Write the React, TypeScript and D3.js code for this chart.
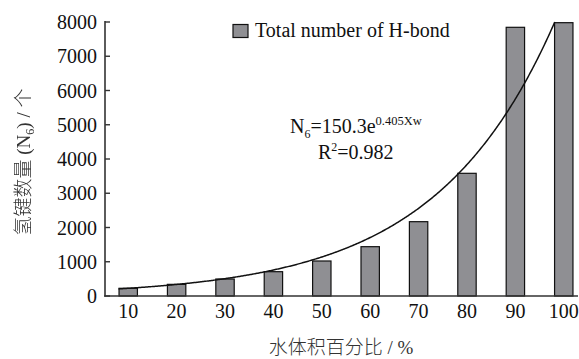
import React from "react";
import * as d3 from "d3";

const categories = ["10", "20", "30", "40", "50", "60", "70", "80", "90", "100"];
const hbondTotals = [225, 340, 496, 710, 1022, 1440, 2170, 3582, 7845, 7980];
const yTicks = [0, 1000, 2000, 3000, 4000, 5000, 6000, 7000, 8000];
const fitA = 150.3;
const fitB = 0.405;
const legendLabel = "Total number of H-bond";

const W = 579;
const H = 359;
const FONT = "'Liberation Serif', 'Times New Roman', serif";
const CJK = "'Noto Sans CJK SC', sans-serif";

export default function App() {
  const x = d3.scaleBand<string>().domain(categories).range([105, 587]).paddingInner(0.62).paddingOuter(0.29);
  const y = d3.scaleLinear().domain([0, 8000]).range([296, 22]);
  const step = x.step();
  const cx = (i: number) => (x(categories[0]) as number) + x.bandwidth() / 2 + (i - 1) * step;
  const xEnd = Math.log(8000 / fitA) / fitB;
  const pts: [number, number][] = d3.range(0.8, xEnd, 0.02).concat([xEnd]).map((t) => [cx(t), y(fitA * Math.exp(fitB * t))]);
  const line = d3.line();
  return (
    <svg width={W} height={H} style={{ position: "absolute", left: 0, top: 0, background: "#fff" }}>
      <defs>
        <filter id="gray" x="0" y="0" width="1" height="1">
          <feColorMatrix type="saturate" values="0" />
        </filter>
      </defs>
      {hbondTotals.map((v, i) => (
        <rect key={i} x={x(categories[i])} y={y(v)} width={x.bandwidth()} height={y(0) - y(v)} fill="#8f8f93" stroke="#111" strokeWidth={1.2} />
      ))}
      <path d={line(pts) || ""} fill="none" stroke="#111" strokeWidth={1.5} />
      <line x1={105} x2={105} y1={21} y2={296.5} stroke="#333" strokeWidth={1.6} />
      <line x1={104} x2={578} y1={296} y2={296} stroke="#333" strokeWidth={1.6} />
      {yTicks.map((t) => (
        <g key={t}>
          <line x1={105} x2={110} y1={y(t)} y2={y(t)} stroke="#333" strokeWidth={1.4} />
          <text x={97} y={y(t)} dy="0.35em" textAnchor="end" fontFamily={FONT} fontSize={20} fill="#111">{t}</text>
        </g>
      ))}
      {categories.map((c) => (
        <text key={c} x={(x(c) as number) + x.bandwidth() / 2} y={318} textAnchor="middle" fontFamily={FONT} fontSize={20} fill="#111">{c}</text>
      ))}
      <text x={341} y={354} textAnchor="middle" fontSize={19} fill="#333">
        <tspan fontFamily={CJK} fontWeight={300}>水体积百分比</tspan>
        <tspan fontFamily={FONT}> / %</tspan>
      </text>
      <g filter="url(#gray)">
        <text transform="translate(30,162) rotate(-90)" textAnchor="middle" fontSize={19} fill="#333">
          <tspan fontFamily={CJK} fontWeight={300}>氢键数量</tspan>
          <tspan fontFamily={FONT}> (N</tspan>
          <tspan fontFamily={FONT} fontSize={12} dy={4}>6</tspan>
          <tspan fontFamily={FONT} dy={-4}>) / </tspan>
          <tspan fontFamily={CJK} fontWeight={300}>个</tspan>
        </text>
      </g>
      <rect x={233} y={24.5} width={15} height={13} fill="#8f8f93" stroke="#111" strokeWidth={1.2} />
      <text x={255} y={37} fontFamily={FONT} fontSize={20} fill="#111">{legendLabel}</text>
      <text x={290} y={133} fontFamily={FONT} fontSize={20} fill="#111">
        <tspan>N</tspan>
        <tspan fontSize={12} dy={5}>6</tspan>
        <tspan dy={-5}>=150.3e</tspan>
        <tspan fontSize={12.5} dy={-8}>0.405Xw</tspan>
      </text>
      <text x={318} y={159} fontFamily={FONT} fontSize={20} fill="#111">
        <tspan>R</tspan>
        <tspan fontSize={12} dy={-8}>2</tspan>
        <tspan dy={8}>=0.982</tspan>
      </text>
    </svg>
  );
}
